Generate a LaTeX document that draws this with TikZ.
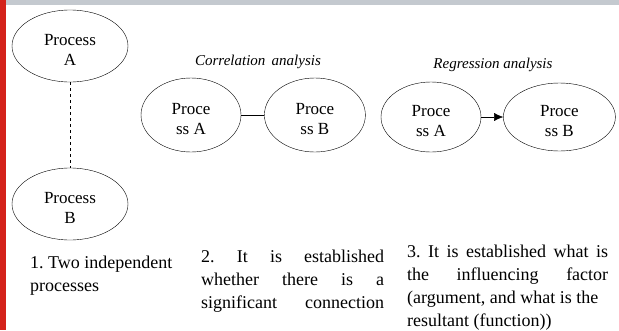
\documentclass[tikz,border=0pt]{standalone}
\usepackage{fontspec}
\setmainfont{Liberation Serif}
\usepackage{tikz}
\usetikzlibrary{shapes.geometric, arrows.meta, positioning}
\definecolor{framered}{RGB}{212,34,26}
\definecolor{framegray}{RGB}{196,201,207}
\frenchspacing

\begin{document}
\begin{tikzpicture}[
    x=1pt, y=-1pt,
    process/.style={ellipse, draw, thin, inner sep=0pt, align=center, text height=43pt, text depth=5pt, font=\fontsize{17}{20}\selectfont},
    title/.style={font=\fontsize{15}{18}\selectfont\itshape},
    caption/.style={anchor=base west, inner sep=0pt, font=\fontsize{18}{23}\selectfont},
    arrow/.style={-{Latex[length=9pt, width=8pt]}, thin}
]
    \useasboundingbox (0,0) rectangle (619,330);

    % window frame
    \fill[framegray] (0,0) rectangle (619,5);
    \fill[framered] (0,0) rectangle (6,330);

    % Two independent processes
    \node[process, minimum width=116pt, minimum height=72pt] (procA) at (70,46) {Process\\A};
    \node[process, minimum width=116pt, minimum height=72pt] (procB) at (70,204) {Process\\B};
    \draw[dashed, thin] (procA.south) -- (procB.north);

    % Correlation analysis
    \node[title] (corrtitle) at (258,62) {Correlation\, analysis};
    \node[process, minimum width=100pt, minimum height=74pt] (corrA) at (191,115) {Proce\\ss A};
    \node[process, minimum width=101pt, minimum height=74pt, right=23pt of corrA] (corrB) {Proce\\ss B};
    \draw[thin] (corrA) -- (corrB);

    % Regression analysis
    \node[title] (regtitle) at (493,65) {Regression analysis};
    \node[process, minimum width=100pt, minimum height=70pt] (regA) at (431,117) {Proce\\ss A};
    \node[process, minimum width=112pt, minimum height=68pt, right=22pt of regA] (regB) {Proce\\ss B};
    \draw[arrow] (regA) -- (regB);

    % Captions
    \node[caption, align=left] (caseone) at (30,291) {1. Two independent\\processes};
    \node[caption, text width=183pt, align=justify] (casetwo) at (201,262) {2. It is established\linebreak
        whether there is a\linebreak significant\hfill connection};
    \node[caption, text width=201pt, align=justify] (casethree) at (407,257) {3. It is established what is\linebreak
        the influencing factor\linebreak (argument, and what is the\newline resultant (function))};

\end{tikzpicture}
\end{document}
